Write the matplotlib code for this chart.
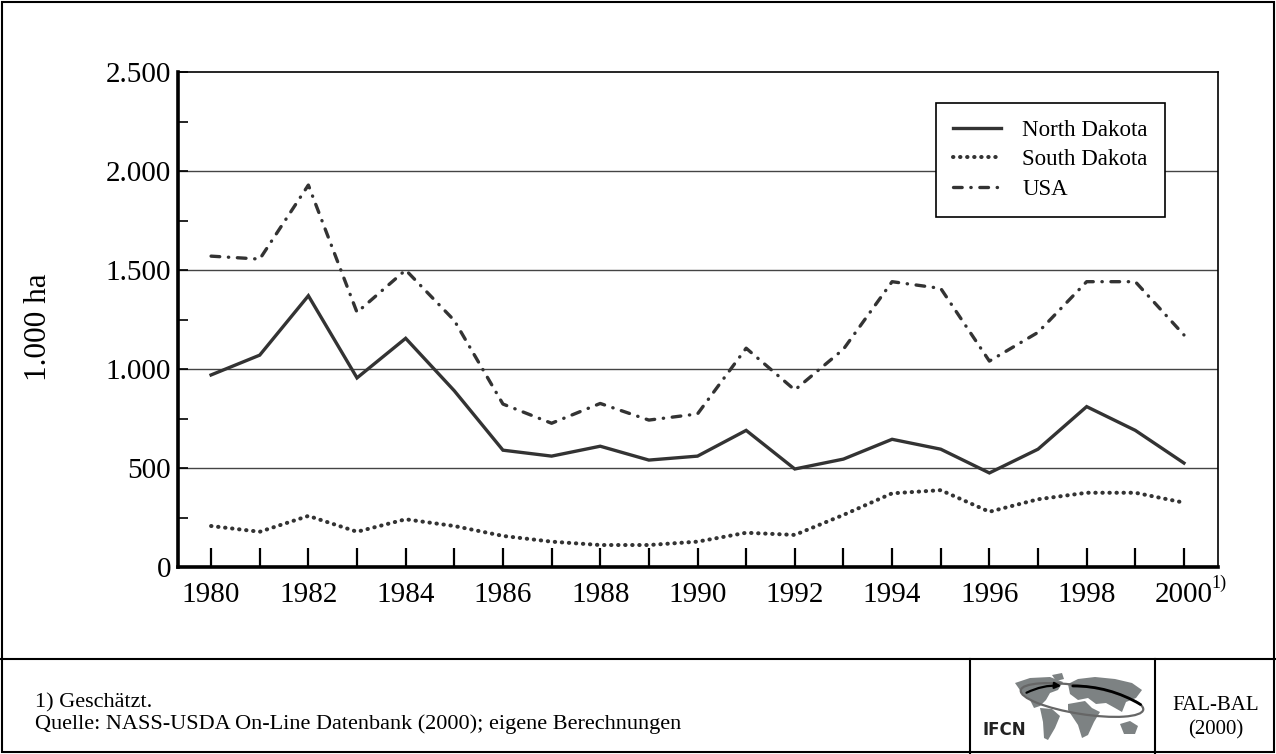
import numpy as np
import matplotlib
matplotlib.use("Agg")
import matplotlib.pyplot as plt
from matplotlib.patches import Rectangle, Ellipse, Polygon, FancyArrowPatch
from matplotlib.lines import Line2D

plt.rcParams["font.family"] = ["Liberation Serif", "DejaVu Serif"]

INK = "#333333"

# ---------------------------------------------------------------------------
# data (1.000 ha)
# ---------------------------------------------------------------------------
years = list(range(1980, 2001))
north_dakota = [970, 1070, 1370, 955, 1155, 890, 590, 560, 610, 540, 560,
                690, 495, 545, 645, 595, 475, 595, 810, 690, 525]
south_dakota = [207, 178, 258, 178, 241, 207, 157, 128, 111, 111, 128,
                173, 162, 263, 372, 388, 279, 342, 375, 375, 325]
usa = [1570, 1555, 1929, 1286, 1500, 1245, 823, 726, 826, 742, 773,
       1105, 894, 1100, 1441, 1407, 1040, 1185, 1441, 1441, 1172]

tick_years = list(range(1980, 2001, 2))
y_major = [0, 500, 1000, 1500, 2000, 2500]
y_labels = ["0", "500", "1.000", "1.500", "2.000", "2.500"]

fig = plt.figure(figsize=(12.76, 7.54), dpi=100)
ax = fig.add_axes([178 / 1276, 1 - 567 / 754, 1040 / 1276, 495 / 754])

ax.plot(years, north_dakota, color=INK, lw=2.4, solid_joinstyle="miter",
        label="North Dakota", zorder=3)
ax.plot(years, south_dakota, color=INK, lw=2.9, linestyle=(0, (0.1, 1.65)),
        dash_capstyle="round", label="South Dakota", zorder=3)
ax.plot(years, usa, color=INK, lw=2.4, linestyle=(0, (2.6, 2.6, 0.1, 2.6)),
        dash_capstyle="round", label="USA", zorder=3)

ax.set_xlim(1979.32, 2000.7)
ax.set_ylim(0, 2500)

ax.set_xticks(years, minor=True)
ax.set_xticks(tick_years)
ax.set_xticklabels([str(y) for y in tick_years], fontsize=21)
ax.set_yticks(y_major)
ax.set_yticklabels(y_labels, fontsize=21)
ax.set_yticks(np.arange(0, 2501, 250), minor=True)

ax.tick_params(axis="x", which="both", direction="in", length=14, width=1.6,
               colors="black", pad=11)
ax.tick_params(axis="y", which="both", direction="in", length=7, width=1.2,
               colors="black", pad=5)

for y in [500, 1000, 1500, 2000]:
    ax.axhline(y, color="#444444", lw=1.0, zorder=1)

ax.spines["left"].set_linewidth(2.6)
ax.spines["bottom"].set_linewidth(2.6)
ax.spines["top"].set_linewidth(1.2)
ax.spines["right"].set_linewidth(1.2)

# superscript note on the last year
ax.text(2000.56, -85, "1)", fontsize=13, ha="left", va="center",
        transform=ax.transData, clip_on=False)

leg = ax.legend(loc="upper left", bbox_to_anchor=(0.729, 0.937), fontsize=16.5,
                frameon=True, fancybox=False, edgecolor="black", framealpha=1,
                handlelength=2.1, labelspacing=0.35, borderpad=0.75,
                handletextpad=0.9, borderaxespad=0)
leg.get_frame().set_linewidth(1.2)
leg.set_zorder(5)

fig.text(38 / 1276, 1 - 327 / 754, "1.000 ha", rotation=90, fontsize=22.5,
         ha="center", va="center")

# ---------------------------------------------------------------------------
# frame and footer
# ---------------------------------------------------------------------------
fig.patches.append(Rectangle((0.0015, 0.002), 0.997, 0.996, transform=fig.transFigure,
                             fill=False, edgecolor="black", lw=1.5))
fig.add_artist(Line2D([0, 1], [1 - 659 / 754] * 2, transform=fig.transFigure,
                      color="black", lw=1.5))
for xp in [970, 1155]:
    fig.add_artist(Line2D([xp / 1276] * 2, [0, 1 - 659 / 754], transform=fig.transFigure,
                          color="black", lw=1.5))

fig.text(35 / 1276, 1 - 703 / 754, "1) Geschätzt.", fontsize=16, va="center")
fig.text(35 / 1276, 1 - 724 / 754,
         "Quelle: NASS-USDA On-Line Datenbank (2000); eigene Berechnungen",
         fontsize=16, va="center")
fig.text(1216 / 1276, 1 - 706 / 754, "FAL-BAL", fontsize=15, ha="center", va="center")
fig.text(1216 / 1276, 1 - 730 / 754, "(2000)", fontsize=15, ha="center", va="center")

# IFCN logo (rough sketch)
logo = fig.add_axes([970 / 1276, 0, 185 / 1276, 1 - 659 / 754])
logo.set_xlim(970, 1155)
logo.set_ylim(754, 659)
logo.axis("off")
GREY = "#7d8283"
continents = [
    [(1015, 683), (1030, 678), (1050, 677), (1063, 682), (1058, 690), (1050, 693),
     (1046, 700), (1040, 706), (1034, 708), (1030, 700), (1022, 693)],
    [(1052, 675), (1062, 673), (1064, 679), (1056, 681)],
    [(1040, 708), (1052, 709), (1060, 716), (1055, 728), (1048, 740), (1044, 738),
     (1043, 722)],
    [(1068, 684), (1078, 679), (1095, 677), (1115, 679), (1132, 683), (1142, 690),
     (1136, 698), (1126, 702), (1122, 712), (1115, 708), (1106, 703), (1096, 704),
     (1088, 698), (1078, 700), (1070, 694)],
    [(1068, 704), (1085, 701), (1092, 708), (1100, 712), (1094, 722), (1088, 735),
     (1082, 738), (1078, 725), (1072, 716), (1068, 710)],
    [(1120, 724), (1130, 721), (1138, 726), (1135, 734), (1124, 734)],
]
for pts in continents:
    logo.add_patch(Polygon(pts, closed=True, facecolor=GREY, edgecolor="none"))
logo.add_patch(Ellipse((1082, 700), 124, 28, angle=9, fill=False,
                       edgecolor="#666666", lw=1.6))
logo.add_patch(FancyArrowPatch((1024, 694), (1064, 686), arrowstyle="-|>",
                               connectionstyle="arc3,rad=-0.15",
                               mutation_scale=9, color="black", lw=1.6))
logo.add_patch(FancyArrowPatch((1070, 686), (1143, 706), arrowstyle="-",
                               connectionstyle="arc3,rad=-0.15",
                               color="black", lw=2.0))
logo.text(983, 730, "IFCN", fontsize=12, fontweight="bold", family="DejaVu Sans",
          ha="left", va="center", color="#222222")

fig.savefig("out.png", dpi=100)
